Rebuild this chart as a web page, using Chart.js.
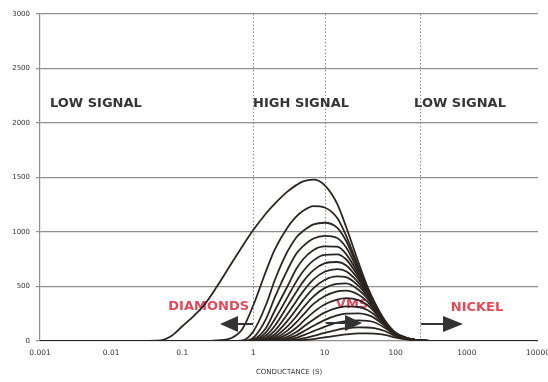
<!DOCTYPE html>
<html>
<head>
<meta charset="utf-8">
<script src="https://cdn.jsdelivr.net/npm/chart.js@4/dist/chart.umd.min.js"></script>
<style>
  html, body { margin: 0; padding: 0; background: #fff; }
  #wrap { width: 548px; height: 382px; }
</style>
</head>
<body>
<div id="wrap"><canvas id="chart" width="548" height="382"></canvas></div>
<script>
const conductance = [0.001, 0.02, 0.05, 0.07, 0.1, 0.15, 0.2, 0.3, 0.5, 0.7, 1, 1.5, 2, 3, 4, 5, 7, 10, 15, 20, 30, 40, 50, 70, 100, 150, 200, 300, 1000, 10000];

// response curves, biggest first
const curve1  = [0, 0, 5, 45, 135, 240, 325, 490, 720, 870, 1020, 1170, 1260, 1370, 1430, 1465, 1480, 1430, 1260, 1050, 720, 500, 360, 190, 75, 25, 8, 0, 0, 0];
const curve2  = [0, 0, 0, 0, 0, 0, 0, 5, 30, 110, 330, 640, 840, 1040, 1140, 1195, 1238, 1225, 1130, 970, 680, 490, 350, 185, 72, 24, 8, 0, 0, 0];
const curve3  = [0, 0, 0, 0, 0, 0, 0, 0, 0, 5, 90, 330, 560, 820, 950, 1010, 1070, 1085, 1040, 920, 660, 480, 345, 182, 70, 23, 8, 0, 0, 0];
const curve4  = [0, 0, 0, 0, 0, 0, 0, 0, 0, 0, 30, 200, 400, 650, 800, 870, 940, 965, 945, 860, 640, 470, 340, 180, 69, 23, 7, 0, 0, 0];
const curve5  = [0, 0, 0, 0, 0, 0, 0, 0, 0, 0, 15, 120, 280, 500, 660, 750, 835, 868, 865, 800, 615, 460, 335, 178, 68, 22, 7, 0, 0, 0];
const curve6  = [0, 0, 0, 0, 0, 0, 0, 0, 0, 0, 8, 80, 200, 400, 545, 640, 740, 790, 795, 750, 590, 450, 330, 176, 67, 22, 7, 0, 0, 0];
const curve7  = [0, 0, 0, 0, 0, 0, 0, 0, 0, 0, 4, 50, 140, 320, 450, 545, 650, 712, 725, 695, 565, 440, 325, 174, 66, 22, 7, 0, 0, 0];
const curve8  = [0, 0, 0, 0, 0, 0, 0, 0, 0, 0, 2, 30, 95, 245, 365, 455, 565, 635, 660, 640, 535, 425, 318, 172, 65, 21, 7, 0, 0, 0];
const curve9  = [0, 0, 0, 0, 0, 0, 0, 0, 0, 0, 0, 18, 62, 185, 290, 375, 485, 560, 592, 585, 505, 410, 310, 170, 64, 21, 7, 0, 0, 0];
const curve10 = [0, 0, 0, 0, 0, 0, 0, 0, 0, 0, 0, 10, 40, 135, 225, 305, 410, 485, 525, 528, 470, 390, 300, 167, 63, 21, 7, 0, 0, 0];
const curve11 = [0, 0, 0, 0, 0, 0, 0, 0, 0, 0, 0, 5, 24, 95, 170, 240, 340, 410, 455, 462, 425, 362, 285, 163, 62, 20, 7, 0, 0, 0];
const curve12 = [0, 0, 0, 0, 0, 0, 0, 0, 0, 0, 0, 2, 13, 63, 122, 180, 265, 335, 380, 394, 375, 330, 268, 158, 61, 20, 7, 0, 0, 0];
const curve13 = [0, 0, 0, 0, 0, 0, 0, 0, 0, 0, 0, 0, 6, 38, 82, 128, 198, 260, 303, 318, 312, 285, 242, 150, 60, 20, 7, 0, 0, 0];
const curve14 = [0, 0, 0, 0, 0, 0, 0, 0, 0, 0, 0, 0, 2, 22, 52, 86, 140, 192, 235, 252, 254, 240, 212, 140, 58, 19, 7, 0, 0, 0];
const curve15 = [0, 0, 0, 0, 0, 0, 0, 0, 0, 0, 0, 0, 0, 10, 28, 52, 90, 130, 168, 183, 190, 185, 172, 122, 54, 18, 6, 0, 0, 0];
const curve16 = [0, 0, 0, 0, 0, 0, 0, 0, 0, 0, 0, 0, 0, 4, 12, 25, 48, 75, 103, 117, 125, 124, 118, 92, 45, 16, 6, 0, 0, 0];
const curve17 = [0, 0, 0, 0, 0, 0, 0, 0, 0, 0, 0, 0, 0, 0, 3, 8, 18, 33, 50, 60, 70, 70, 67, 56, 32, 12, 4, 0, 0, 0];

const curves = [curve1, curve2, curve3, curve4, curve5, curve6, curve7, curve8, curve9,
  curve10, curve11, curve12, curve13, curve14, curve15, curve16, curve17];

// axis ticks
const xTicks = [0.001, 0.01, 0.1, 1, 10, 100, 1000, 10000];
const xTickLabels = ['0.001', '0.01', '0.1', '1', '10', '100', '1000', '10000'];
const yTicks = [0, 500, 1000, 1500, 2000, 2500, 3000];

// zone boundaries (dotted lines) and the text put on the chart
const zoneLines = [1, 10, 220];
const zoneLabels = ['LOW SIGNAL', 'HIGH SIGNAL', 'LOW SIGNAL'];
const targetLabels = ['DIAMONDS', 'VMS', 'NICKEL'];

// where the texts/arrows sit, in data units
const zoneLabelPos = [[0.0061, 2175], [4.67, 2175], [801, 2175]];
const targetLabelPos = [[0.235, 312], [24.3, 330], [1390, 303]];
const arrows = [
  { tail: 0.987, base: 0.607, tip: 0.339, y: 156 },
  { tail: 10.5, base: 19.4, tip: 33.6, y: 165 },
  { tail: 227, base: 462, tip: 883, y: 156 }
];

const annotations = {
  id: 'annotations',
  beforeDatasetsDraw(chart) {
    const { ctx, chartArea, scales } = chart;
    const x = scales.x, y = scales.y;
    ctx.save();
    // dotted zone lines
    ctx.strokeStyle = '#8c8c8c';
    ctx.lineWidth = 1;
    ctx.setLineDash([1.5, 2]);
    zoneLines.forEach(v => {
      const px = Math.round(x.getPixelForValue(v)) + 0.5;
      ctx.beginPath();
      ctx.moveTo(px, chartArea.top);
      ctx.lineTo(px, chartArea.bottom);
      ctx.stroke();
    });
    ctx.setLineDash([]);

    ctx.textAlign = 'center';
    ctx.textBaseline = 'middle';
    ctx.font = 'bold 13px "DejaVu Sans"';
    ctx.fillStyle = '#353535';
    zoneLabels.forEach((t, i) => {
      ctx.fillText(t, x.getPixelForValue(zoneLabelPos[i][0]), y.getPixelForValue(zoneLabelPos[i][1]));
    });
    ctx.fillStyle = '#e24a5c';
    targetLabels.forEach((t, i) => {
      ctx.fillText(t, x.getPixelForValue(targetLabelPos[i][0]), y.getPixelForValue(targetLabelPos[i][1]));
    });
    ctx.restore();
  },
  afterDatasetsDraw(chart) {
    const { ctx, scales } = chart;
    const x = scales.x, y = scales.y;
    ctx.save();
    ctx.strokeStyle = '#333';
    ctx.fillStyle = '#333';
    ctx.lineWidth = 2;
    arrows.forEach(a => {
      const py = y.getPixelForValue(a.y);
      const tail = x.getPixelForValue(a.tail);
      const base = x.getPixelForValue(a.base);
      const tip = x.getPixelForValue(a.tip);
      ctx.beginPath();
      ctx.moveTo(tail, py);
      ctx.lineTo(base, py);
      ctx.stroke();
      ctx.beginPath();
      ctx.moveTo(tip, py);
      ctx.lineTo(base, py - 8);
      ctx.lineTo(base, py + 8);
      ctx.closePath();
      ctx.fill();
    });
    ctx.restore();
  }
};

const datasets = curves.map((c, i) => ({
  label: 'curve ' + (i + 1),
  data: conductance.map((s, j) => ({ x: s, y: c[j] })),
  borderColor: '#2b2522',
  borderWidth: 1.8,
  pointRadius: 0,
  fill: false,
  cubicInterpolationMode: 'monotone'
}));

new Chart(document.getElementById('chart'), {
  type: 'line',
  data: { datasets },
  options: {
    responsive: false,
    animation: false,
    layout: { padding: { top: 14, right: 10, left: 0, bottom: 0 } },
    plugins: {
      legend: { display: false },
      tooltip: { enabled: false }
    },
    scales: {
      x: {
        type: 'logarithmic',
        min: 0.001,
        max: 10000,
        afterBuildTicks: scale => { scale.ticks = xTicks.map(v => ({ value: v })); },
        afterFit: scale => { scale.height = 41; scale.paddingRight = 0; scale.paddingLeft = 0; },
        ticks: {
          autoSkip: false,
          maxRotation: 0,
          padding: 0,
          color: '#333',
          font: { family: 'DejaVu Sans', size: 7.5 },
          callback: (v) => xTickLabels[xTicks.indexOf(v)]
        },
        grid: { display: false },
        border: { display: false },
        title: {
          display: true,
          text: 'CONDUCTANCE (S)',
          color: '#333',
          font: { family: 'DejaVu Sans', size: 7 },
          padding: { top: 2, bottom: 6 }
        }
      },
      y: {
        min: 0,
        max: 3000,
        afterBuildTicks: scale => { scale.ticks = yTicks.map(v => ({ value: v })); },
        afterFit: scale => { scale.width = 40; },
        ticks: {
          color: '#333',
          padding: 6,
          font: { family: 'DejaVu Sans', size: 7 },
          callback: (v) => String(v)
        },
        grid: { color: '#8f8f8f', lineWidth: 1.2, tickLength: 4 },
        border: { color: '#8f8f8f', width: 1.2 }
      }
    }
  },
  plugins: [annotations]
});
</script>
</body>
</html>
